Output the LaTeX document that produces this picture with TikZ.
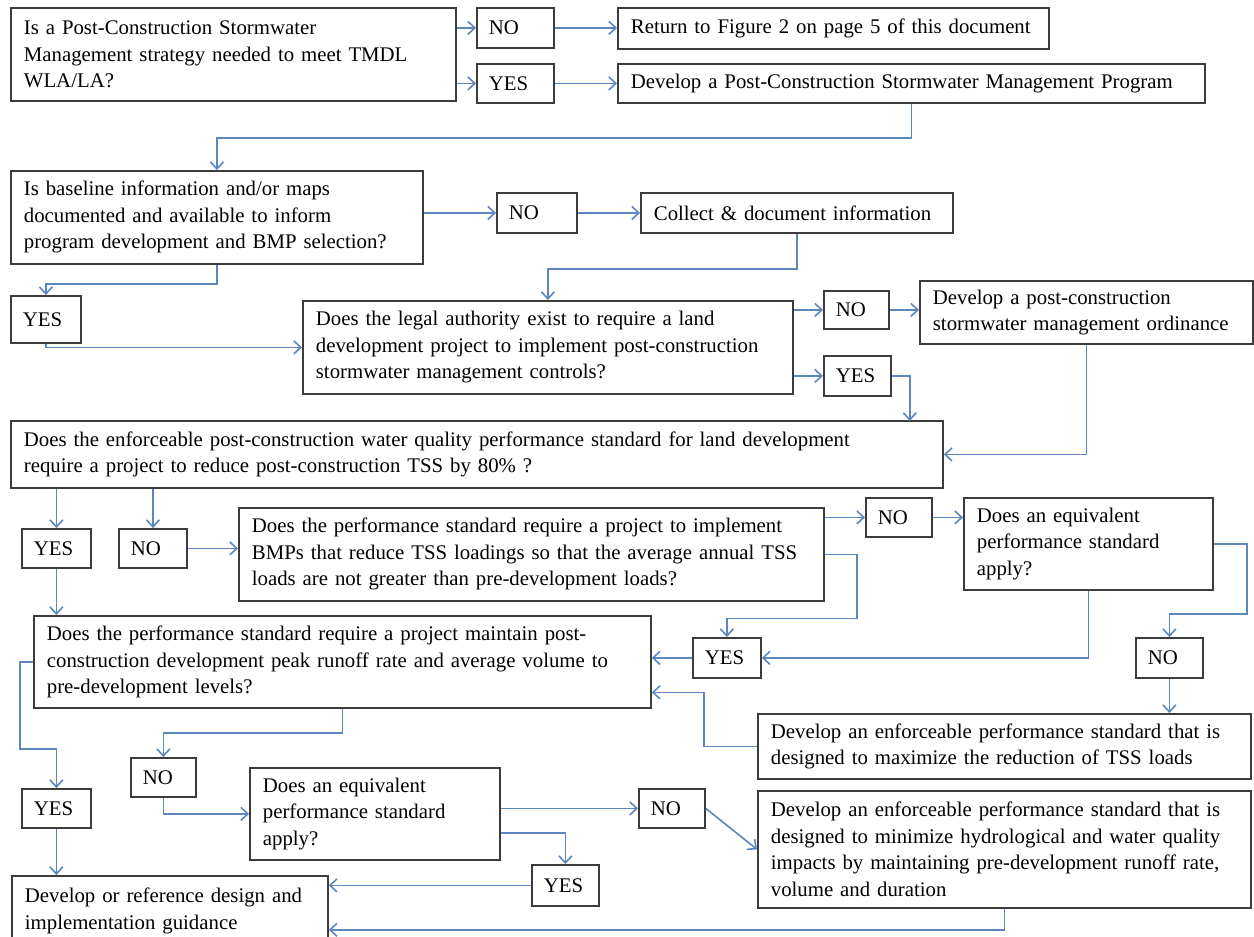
\documentclass[tikz,border=0pt]{standalone}
\usepackage{fontspec}
\setmainfont{Liberation Serif}[WordSpace=0.85]
\usetikzlibrary{arrows.meta}
\definecolor{linkblue}{RGB}{92,134,192}
\definecolor{boxgray}{RGB}{60,60,60}
\hyphenpenalty=10000
\exhyphenpenalty=10000
\tikzset{
  qbox/.style={draw=boxgray, line width=0.9pt, anchor=north west, align=left,
    inner xsep=6.5pt, inner ysep=2pt, font=\fontsize{10.4}{13.25}\selectfont},
  ans/.style={qbox, inner xsep=6pt},
  link/.style={draw=linkblue, line width=0.8pt, -{Straight Barb[length=3.5pt,width=6.5pt]}},
}
\begin{document}
\begin{tikzpicture}[x=0.5pt, y=-0.5pt]
  \useasboundingbox (0,0) rectangle (1254,937);
  \clip (0,0) rectangle (1254,937);

  % first question
  \node[qbox, text width=209.5pt, minimum height=46.5pt] (q1) at (10,7) {Is a Post-Construction Stormwater\\ Management strategy needed to meet TMDL\\ WLA/LA?};
  \node[ans, text width=26.5pt, minimum height=20pt] (no1) at (476,7) {NO};
  \node[ans, text width=26.5pt, minimum height=19.5pt] (yes1) at (476,63) {YES};
  \node[qbox, text width=202.5pt, minimum height=20.5pt] (ret) at (617,7) {Return to Figure 2 on page 5 of this document};
  \node[qbox, text width=280.5pt, minimum height=19.5pt] (prog) at (617,63) {Develop a Post-Construction Stormwater Management Program};

  % baseline information
  \node[qbox, text width=193pt, minimum height=46.5pt] (q2) at (10,170) {Is baseline information and/or maps\\ documented  and available to inform\\ program development and BMP selection?};
  \node[ans, text width=28pt, minimum height=20pt] (no2) at (496,192) {NO};
  \node[qbox, text width=143pt, minimum height=20pt] (coll) at (640,192) {Collect \& document information};
  \node[ans, text width=23pt, minimum height=23.5pt] (yes2) at (10,295) {YES};

  % legal authority
  \node[qbox, text width=232pt, minimum height=46.5pt] (q3) at (302,300) {Does the legal authority exist to require a land\\ development project to implement post-construction\\ stormwater management controls?};
  \node[ans, text width=20.5pt, minimum height=19pt] (no3) at (823,290) {NO};
  \node[ans, text width=21.5pt, minimum height=20pt] (yes3) at (823,355) {YES};
  \node[qbox, text width=153.5pt, minimum height=31.5pt] (ord) at (919,280) {Develop a post-construction\\ stormwater management ordinance};

  % TSS standard
  \node[qbox, text width=453pt, minimum height=33.5pt] (q4) at (10,420) {Does the enforceable post-construction water quality performance standard for land development\\ require a project to reduce post-construction TSS by 80\% ?};
  \node[ans, text width=22.5pt, minimum height=19.5pt] (yes4) at (21,528) {YES};
  \node[ans, text width=22pt, minimum height=19.5pt] (no4) at (118,528) {NO};
  \node[qbox, text width=279.5pt, minimum height=46.5pt] (q5) at (238,507) {Does the performance standard require a project to implement\\ BMPs that reduce TSS loadings so that the average annual TSS\\ loads are not greater than pre-development loads?};
  \node[ans, text width=21pt, minimum height=19.5pt] (no5) at (865,497) {NO};
  \node[qbox, text width=111.5pt, minimum height=46pt] (q7) at (963,497) {Does an equivalent\\ performance standard\\ apply?};
  \node[ans, text width=22pt, minimum height=20pt] (yes5) at (692,637) {YES};
  \node[ans, text width=21.5pt, minimum height=20pt] (no6) at (1135,637) {NO};
  \node[qbox, text width=233.5pt, minimum height=32.5pt] (devmax) at (757,713) {Develop an enforceable performance standard that is\\ designed to maximize the reduction  of TSS loads};

  % runoff standard
  \node[qbox, text width=295.5pt, minimum height=46pt] (q6) at (33,615) {Does the performance standard require a project maintain post-\\ construction development peak runoff rate and average volume to\\ pre-development levels?};
  \node[ans, text width=20.5pt, minimum height=19.5pt] (no8) at (130,757) {NO};
  \node[ans, text width=22.5pt, minimum height=19.5pt] (yes6) at (21,788) {YES};
  \node[qbox, text width=112pt, minimum height=46pt] (q8) at (249,767) {Does an equivalent\\ performance standard\\ apply?};
  \node[ans, text width=21pt, minimum height=19.5pt] (no7) at (638,788) {NO};
  \node[qbox, text width=233.5pt, minimum height=58.5pt] (devmin) at (757,790) {Develop an enforceable performance standard that is\\ designed to minimize hydrological and water quality\\ impacts by maintaining pre-development runoff  rate,\\ volume and duration};
  \node[ans, text width=21.5pt, minimum height=20.5pt] (yes8) at (531,864) {YES};
  \node[qbox, text width=145pt, minimum height=35pt] (final) at (11,875) {Develop or reference design and\\ implementation guidance};

  % connectors
  \draw[link] (q1.east |- no1) -- (no1.west);
  \draw[link] (q1.east |- yes1) -- (yes1.west);
  \draw[link] (no1.east) -- (no1.east -| ret.west);
  \draw[link] (yes1.east) -- (yes1.east -| prog.west);
  \draw[link] (prog.south) -- ++(0,34) -| (q2.north);
  \draw[link] (q2.east |- no2) -- (no2.west);
  \draw[link] (no2.east) -- (no2.east -| coll.west);
  \draw[link] (coll.south) -- ++(0,35) -| (q3.north);
  \draw[link] (q2.south) -- ++(0,19) -| (yes2.north);
  \draw[link] (yes2.south) |- (q3.west);
  \draw[link] (q3.east |- no3) -- (no3.west);
  \draw[link] (no3.east) -- (no3.east -| ord.west);
  \draw[link] (q3.east |- yes3) -- (yes3.west);
  \draw[link] (yes3.east) -- ++(18,0) -- ++(0,45);
  \draw[link] (ord.south) |- (q4.east);
  \draw[link] (q4.south -| yes4.north) -- (yes4.north);
  \draw[link] (q4.south -| no4.north) -- (no4.north);
  \draw[link] (no4.east) -- (no4.east -| q5.west);
  \draw[link] (yes4.south) -- (yes4.south |- q6.north);
  \draw[link] (q5.east |- no5) -- (no5.west);
  \draw[link] (no5.east) -- (no5.east -| q7.west);
  \draw[link] (q5.east) -- ++(32,0) -- ++(0,64) -| (yes5.north);
  \draw[link] (yes5.west) -- (yes5.west -| q6.east);
  \draw[link] (q7.south) |- (yes5.east);
  \draw[link] (q7.east) -- ++(33,0) -- ++(0,70) -| (no6.north);
  \draw[link] (no6.south) -- (no6.south |- devmax.north);
  \draw[link] (devmax.west) -- ++(-53,0) -- ++(0,-54) coordinate (bend) -- (bend -| q6.east);
  \draw[link] (q6.south) -- ++(0,24) -| (no8.north);
  \draw[link] (no8.south) |- (q8.west);
  \draw[link] (q8.east |- no7) -- (no7.west);
  \draw[link] (no7.east) -- (devmin.west);
  \draw[link] ([yshift=-9.5pt]q8.east) -| (yes8.north);
  \draw[link] (yes8.west) -- (yes8.west -| final.east);
  \draw[link] (devmin.south) -- ++(0,21) coordinate (drop) -- (drop -| final.east);
  \draw[link] (q6.west) -- ++(-13,0) -- ++(0,87) -| (yes6.north);
  \draw[link] (yes6.south) -- (yes6.south |- final.north);
\end{tikzpicture}
\end{document}
